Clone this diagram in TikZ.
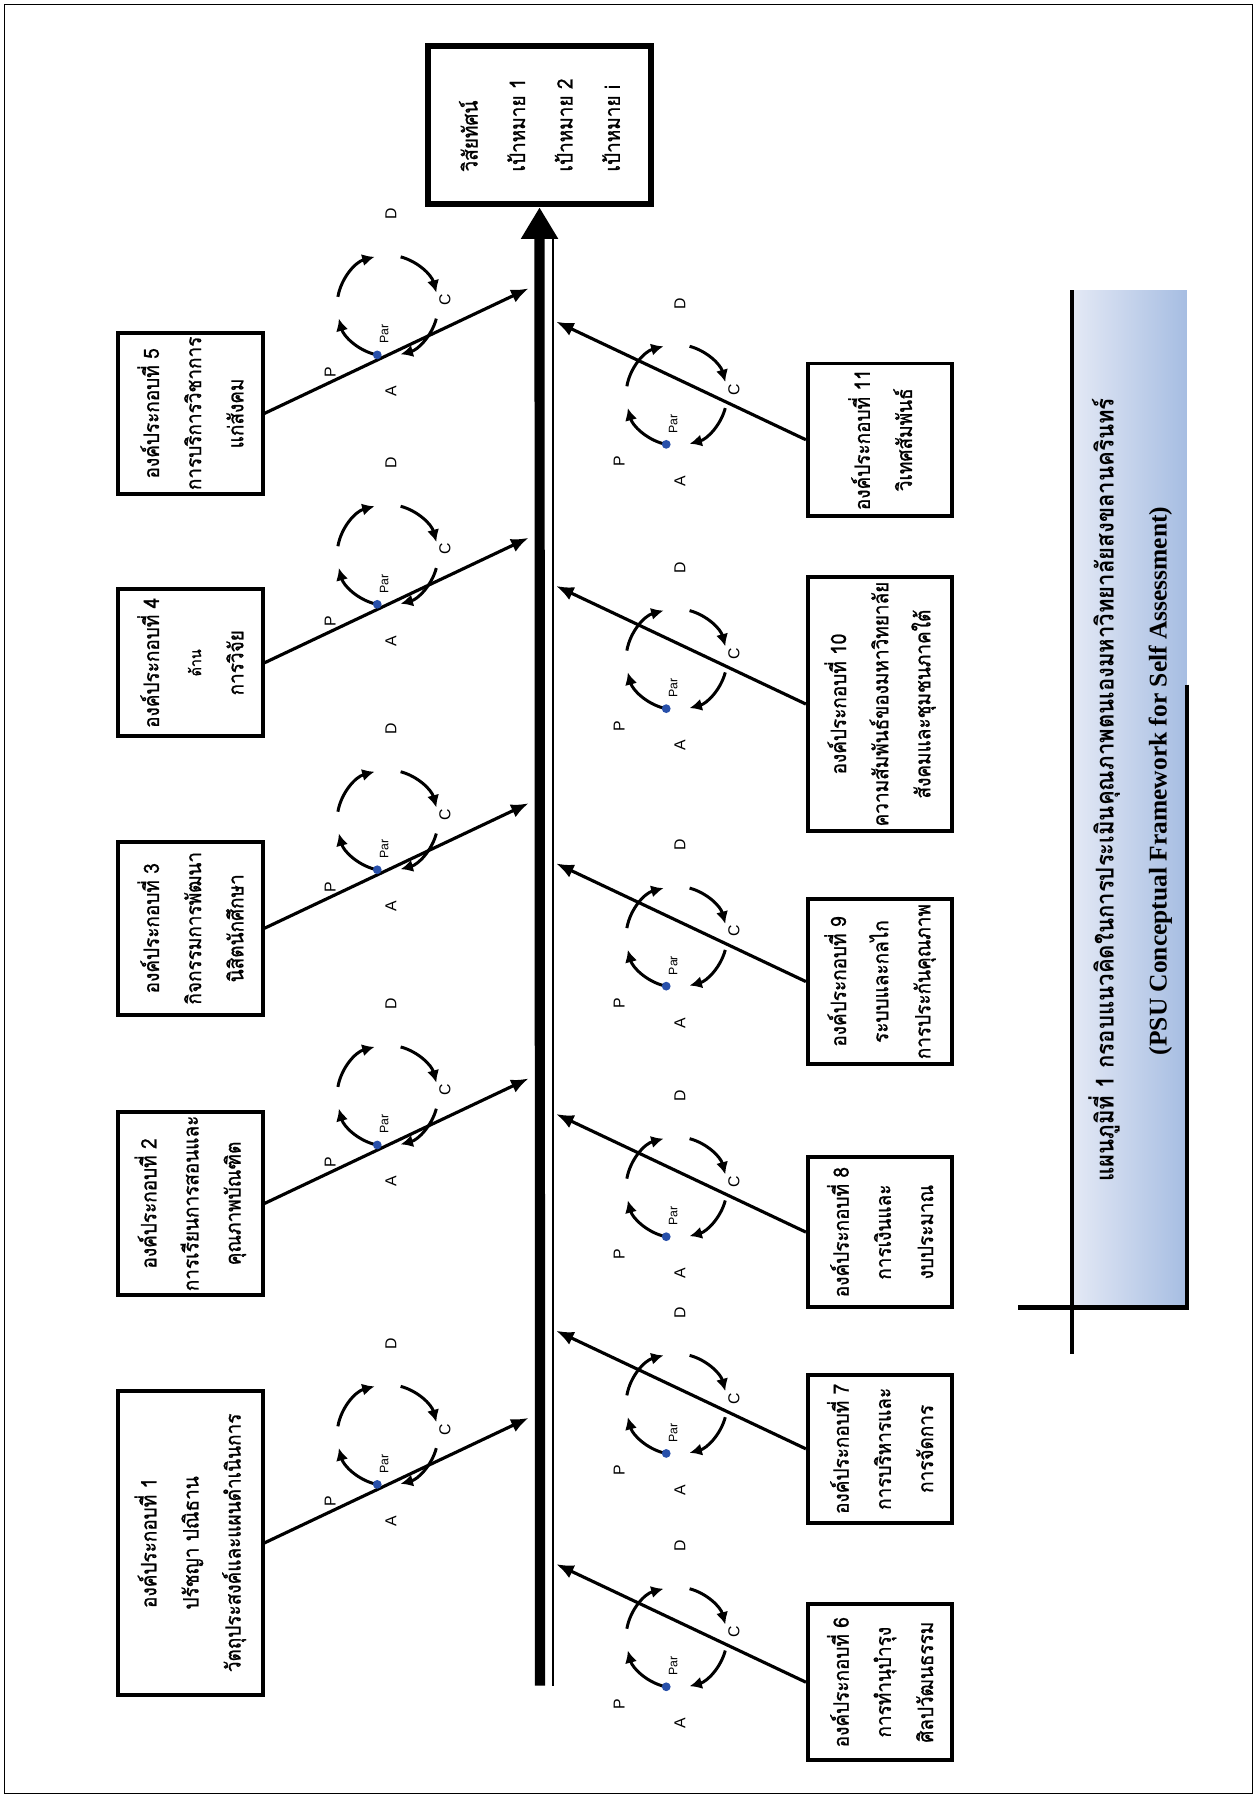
\documentclass[tikz,border=0pt]{standalone}
\usepackage{fontspec}
\setsansfont{Liberation Sans}
\newfontfamily\thaifont[Script=Thai,FakeStretch=0.9]{Loma}
\newfontfamily\thaiboxfont[Script=Thai,FakeStretch=0.9,FakeBold=1]{Loma}
\newfontfamily\engfont{Liberation Serif}
\usetikzlibrary{arrows.meta}
\definecolor{titleleft}{RGB}{228,233,245}
\definecolor{titleright}{RGB}{166,189,226}
\definecolor{dotblue}{RGB}{40,80,170}
\def\pxu{0.02294cm}
\tikzset{
  elembox/.style={draw, line width=2.2pt, rotate=90, align=center, inner sep=2pt,
    minimum height=126*\pxu, font=\thaiboxfont\fontsize{12}{24}\selectfont},
  goalbox/.style={draw, line width=3.6pt, rotate=90, align=left, inner sep=2pt,
    font=\thaiboxfont\fontsize{12}{27}\selectfont},
  branch/.style={line width=1.8pt, -{Latex[length=10pt,width=8pt]}},
  cyclearc/.style={line width=1.7pt, -{Latex[length=7pt,width=7pt]}},
  cyclelbl/.style={rotate=90, inner sep=0pt, font=\sffamily\fontsize{9}{9}\selectfont},
  parlbl/.style={rotate=90, inner sep=0pt, font=\sffamily\fontsize{7}{7}\selectfont},
}
% PDCA cycle: centre x, centre y, name
\newcommand{\pdcacycle}[3]{%
  \begin{scope}[shift={(#1,#2)}]
    \draw[cyclearc] (190:44) arc[start angle=190, end angle=255, radius=44];
    \draw[cyclearc] (285:44) arc[start angle=285, end angle=345, radius=44];
    \draw[cyclearc] (15:44) arc[start angle=15, end angle=75, radius=44];
    \draw[cyclearc] (105:44) arc[start angle=105, end angle=165, radius=44];
    \node[cyclelbl] (#3p) at (-50,58) {P};
    \node[cyclelbl] (#3d) at (3,-80) {D};
    \node[cyclelbl] (#3c) at (50,-5) {C};
    \node[cyclelbl] (#3a) at (3,75) {A};
    \node[parlbl] (#3par) at (-3,25) {Par};
    \node[circle, fill=dotblue, inner sep=0pt, minimum size=5pt] (#3dot) at (-9,43) {};
  \end{scope}}
\begin{document}
\begin{tikzpicture}[x=\pxu, y=-\pxu]
  \useasboundingbox (0,0) rectangle (1096,1568);
  \draw[line width=0.6pt] (4,4) rectangle (1092,1564);

  % goal
  \node[goalbox, minimum width=138*\pxu, minimum height=195*\pxu] (goal) at (470.5,109)
    {วิสัยทัศน์\\เป้าหมาย 1\\เป้าหมาย 2\\เป้าหมาย i};

  % spine
  \coordinate (sb) at (471,1470);
  \coordinate (sbr) at (482.5,1470);
  \coordinate (str) at (482.5,205);
  \draw[line width=5.8pt, -{Triangle[length=18pt,width=20pt]}] (sb) -- (goal.west);
  \draw[line width=1pt] (sbr) -- (str);

  % upper elements
  \node[elembox, minimum width=265*\pxu] (e1) at (166,1345.5)
    {องค์ประกอบที่ 1\\ปรัชญา ปณิธาน\\วัตถุประสงค์และแผนดำเนินการ};
  \node[elembox, minimum width=159*\pxu] (e2) at (166,1049.5)
    {องค์ประกอบที่ 2\\การเรียนการสอนและ\\คุณภาพบัณฑิต};
  \node[elembox, minimum width=151*\pxu] (e3) at (166,809.5)
    {องค์ประกอบที่ 3\\กิจกรรมการพัฒนา\\นิสิตนักศึกษา};
  \node[elembox, minimum width=128*\pxu] (e4) at (166,578)
    {องค์ประกอบที่ 4\\{\fontsize{9}{12}\selectfont ด้าน}\\การวิจัย};
  \node[elembox, minimum width=137*\pxu] (e5) at (166,360.5)
    {องค์ประกอบที่ 5\\การบริการวิชาการ\\แก่สังคม};
  \coordinate (t1) at (461,1236.5);
  \coordinate (t2) at (461,940.5);
  \coordinate (t3) at (461,700.5);
  \coordinate (t4) at (461,469);
  \coordinate (t5) at (461,251.5);
  \draw[branch] (e1.south) -- (t1);
  \draw[branch] (e2.south) -- (t2);
  \draw[branch] (e3.south) -- (t3);
  \draw[branch] (e4.south) -- (t4);
  \draw[branch] (e5.south) -- (t5);
  \pdcacycle{338}{1251.5}{c1}
  \pdcacycle{338}{955.5}{c2}
  \pdcacycle{338}{715.5}{c3}
  \pdcacycle{338}{484}{c4}
  \pdcacycle{338}{266.5}{c5}

  % lower elements
  \node[elembox, minimum width=136*\pxu] (e6) at (767.5,1467)
    {องค์ประกอบที่ 6\\การทำนุบำรุง\\ศิลปวัฒนธรรม};
  \node[elembox, minimum width=129*\pxu] (e7) at (767.5,1263.5)
    {องค์ประกอบที่ 7\\การบริหารและ\\การจัดการ};
  \node[elembox, minimum width=131*\pxu] (e8) at (767.5,1074.5)
    {องค์ประกอบที่ 8\\การเงินและ\\งบประมาณ};
  \node[elembox, minimum width=144*\pxu] (e9) at (767.5,856)
    {องค์ประกอบที่ 9\\ระบบและกลไก\\การประกันคุณภาพ};
  \node[elembox, minimum width=222*\pxu] (e10) at (767.5,614)
    {องค์ประกอบที่ 10\\ความสัมพันธ์ของมหาวิทยาลัย\\สังคมและชุมชนภาคใต้};
  \node[elembox, minimum width=133*\pxu] (e11) at (767.5,383.5)
    {องค์ประกอบที่ 11\\วิเทศสัมพันธ์};
  \coordinate (t6) at (485,1364);
  \coordinate (t7) at (485,1160.5);
  \coordinate (t8) at (485,971.5);
  \coordinate (t9) at (485,753);
  \coordinate (t10) at (485,511);
  \coordinate (t11) at (485,280.5);
  \draw[branch] (e6.north) -- (t6);
  \draw[branch] (e7.north) -- (t7);
  \draw[branch] (e8.north) -- (t8);
  \draw[branch] (e9.north) -- (t9);
  \draw[branch] (e10.north) -- (t10);
  \draw[branch] (e11.north) -- (t11);
  \pdcacycle{590}{1428}{c6}
  \pdcacycle{590}{1224.5}{c7}
  \pdcacycle{590}{1035.5}{c8}
  \pdcacycle{590}{817}{c9}
  \pdcacycle{590}{575}{c10}
  \pdcacycle{590}{344.5}{c11}

  % title
  \shade[left color=titleleft, right color=titleright] (935,253) rectangle (1035,1140);
  \draw[line width=2.6pt] (935,253) -- (935,1181);
  \draw[line width=2.6pt] (888,1140) -- (1037,1140);
  \draw[line width=2.6pt] (1035,597) -- (1035,1140);
  \node[rotate=90, inner sep=0pt, font=\thaifont\bfseries\fontsize{14}{14}\selectfont] (ttl) at (963,689)
    {แผนภูมิที่ 1 กรอบแนวคิดในการประเมินคุณภาพตนเองมหาวิทยาลัยสงขลานครินทร์};
  \node[rotate=90, inner sep=0pt, font=\engfont\bfseries\fontsize{14.5}{14.5}\selectfont] (ttlen) at (1012,681)
    {(PSU Conceptual Framework for Self Assessment)};
\end{tikzpicture}
\end{document}
